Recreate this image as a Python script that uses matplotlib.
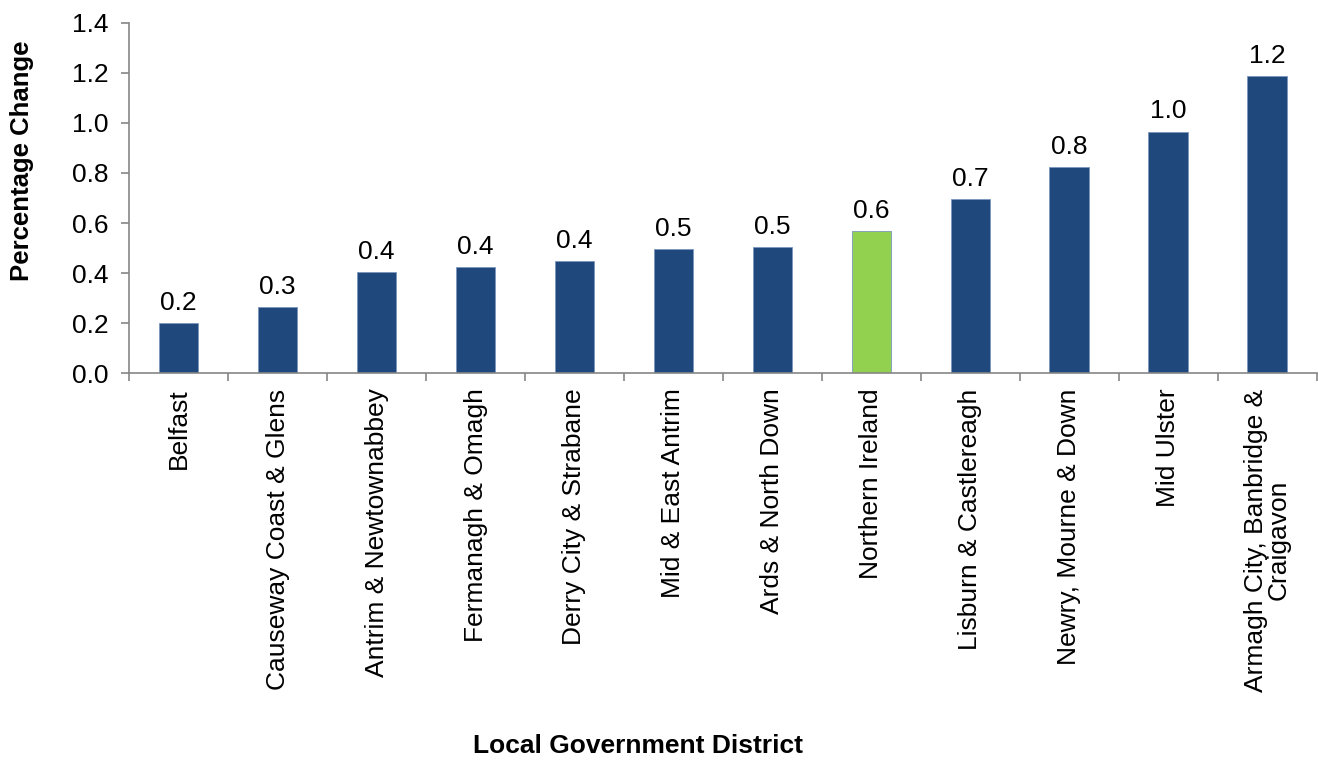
import numpy as np
import matplotlib
matplotlib.use("Agg")
import matplotlib.pyplot as plt

plt.rcParams['font.family'] = ['Liberation Sans', 'DejaVu Sans']

districts = ["Belfast", "Causeway Coast & Glens", "Antrim & Newtownabbey",
             "Fermanagh & Omagh", "Derry City & Strabane", "Mid & East Antrim",
             "Ards & North Down", "Northern Ireland", "Lisburn & Castlereagh",
             "Newry, Mourne & Down", "Mid Ulster",
             "Armagh City, Banbridge &\nCraigavon"]
pct_change = [0.199, 0.263, 0.403, 0.423, 0.447, 0.495, 0.503, 0.567,
              0.696, 0.822, 0.965, 1.188]
highlight = "Northern Ireland"

navy = "#1F497D"
green = "#92D050"
grey = "#868686"
fs = 19

fig = plt.figure(figsize=(13.18, 7.6), dpi=100)
ax = fig.add_axes([0.098, 0.509, 0.901, 0.461])

x = np.arange(len(districts))
colors = [green if d == highlight else navy for d in districts]
ax.bar(x, pct_change, width=0.4, color=colors, edgecolor="#7A96BC", linewidth=0.6)

for xi, v in zip(x, pct_change):
    ax.annotate(f"{v:.1f}", (xi, v), xytext=(0, 6), textcoords="offset points",
                ha="center", va="bottom", fontsize=fs)

ax.set_xlim(-0.5, len(districts) - 0.5)
ax.set_ylim(0, 1.4)
ax.set_yticks(np.arange(0, 1.41, 0.2))
ax.set_yticklabels([f"{t:.1f}" for t in np.arange(0, 1.41, 0.2)], fontsize=fs)

ax.set_xticks(x)
ax.set_xticklabels(districts, rotation=90, fontsize=fs, ha="center",
                   va="top", multialignment="center", linespacing=0.95)
ax.set_xticks(np.arange(-0.5, len(districts), 1), minor=True)
ax.tick_params(axis="x", which="major", length=0, pad=11)
ax.tick_params(axis="x", which="minor", length=6, color=grey, width=1.2)
ax.tick_params(axis="y", length=6, color=grey, width=1.2, pad=9)

for s in ["top", "right"]:
    ax.spines[s].set_visible(False)
for s in ["left", "bottom"]:
    ax.spines[s].set_color(grey)
    ax.spines[s].set_linewidth(1.2)

# axis titles placed as in the original (y title sits above the axis centre)
fig.text(0.017, 1 - 161 / 760, "Percentage Change", fontsize=18.5,
         fontweight="bold", rotation=90, ha="center", va="center")
fig.text(0.484, 0.003, "Local Government District", fontsize=19,
         fontweight="bold", ha="center", va="bottom")

fig.savefig("out.png", dpi=100)
